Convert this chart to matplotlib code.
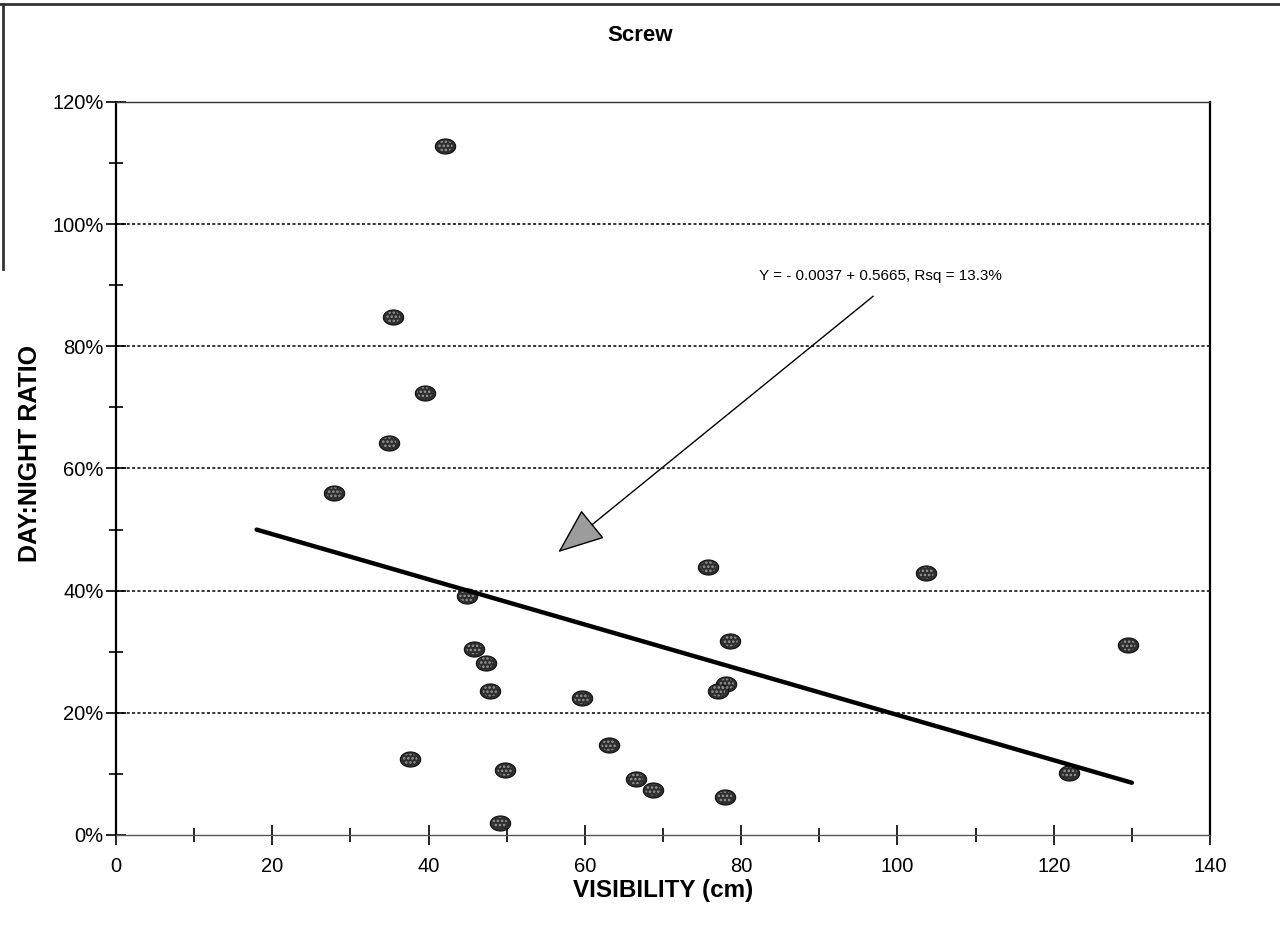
import numpy as np
import matplotlib
matplotlib.use("Agg")
import matplotlib.pyplot as plt
from matplotlib.path import Path
from matplotlib.lines import Line2D
from matplotlib.ticker import MultipleLocator, FuncFormatter

plt.rcParams['font.family'] = ['Liberation Sans', 'DejaVu Sans']
plt.rcParams['hatch.linewidth'] = 1.2

visibility = [42.1, 35.4, 39.5, 34.9, 27.9, 44.9, 45.8, 47.3, 47.9, 37.6, 49.8, 49.1,
              59.6, 63.1, 66.5, 68.7, 75.8, 78.6, 78.1, 77.0, 77.9, 103.7, 129.5, 122.0]
ratio = [1.128, 0.848, 0.724, 0.642, 0.560, 0.391, 0.305, 0.282, 0.236, 0.124, 0.106, 0.020,
         0.224, 0.147, 0.092, 0.074, 0.439, 0.318, 0.247, 0.236, 0.062, 0.429, 0.311, 0.102]

intercept = 0.5665
slope = -0.0037
fit_x = [18, 130]
eq_text = "Y = - 0.0037 + 0.5665, Rsq = 13.3%"

fig = plt.figure(figsize=(12.8, 9.26), dpi=100)
ax = fig.add_axes([0.0906, 0.0983, 0.8547, 0.7916])

# ellipse marker
t = np.linspace(0, 2 * np.pi, 60)
verts = np.column_stack([1.35 * np.cos(t), np.sin(t)])
ell = Path(verts, closed=True)
ax.scatter(visibility, ratio, marker=ell, s=215, facecolor='#2e2e2e',
           edgecolor='#111111', linewidths=0.8, zorder=4)
ax.scatter(visibility, ratio, marker=ell, s=120, facecolor='none',
           edgecolor='#9a9a9a', hatch='....', linewidths=0.0, zorder=4.5)

fx = np.array(fit_x, dtype=float)
ax.plot(fx, intercept + slope * fx, color='black', lw=3.2, solid_capstyle='round', zorder=5)

ax.annotate("", xy=(56.6, 0.463), xytext=(96.9, 0.882),
            arrowprops=dict(arrowstyle='-|>,head_length=3,head_width=1.2',
                            lw=1.0, fc='#9c9c9c', ec='black', shrinkA=0, shrinkB=0),
            zorder=6)
ax.text(97.8, 0.915, eq_text, ha='center', va='center', fontsize=11)

ax.set_xlim(0, 140)
ax.set_ylim(0, 1.2)
ax.xaxis.set_major_locator(MultipleLocator(20))
ax.xaxis.set_minor_locator(MultipleLocator(10))
ax.yaxis.set_major_locator(MultipleLocator(0.2))
ax.yaxis.set_minor_locator(MultipleLocator(0.1))
ax.yaxis.set_major_formatter(FuncFormatter(lambda v, p: f"{v*100:.0f}%"))
ax.tick_params(axis='both', which='major', direction='inout', length=14, width=1.2,
               labelsize=14.5, pad=2)
ax.tick_params(axis='both', which='minor', direction='inout', length=10, width=1.2)
ax.tick_params(axis='x', pad=9)

for yv in [0.2, 0.4, 0.6, 0.8, 1.0]:
    ax.axhline(yv, color='black', lw=1.1, ls=(0, (2, 1.5)), zorder=1)

for s in ['left', 'right']:
    ax.spines[s].set_linewidth(1.6)
ax.spines['top'].set_linewidth(1.0)
ax.spines['bottom'].set_linewidth(1.0)
ax.spines['top'].set_color('#333333')
ax.spines['bottom'].set_color('#555555')

ax.set_xlabel("VISIBILITY (cm)", fontsize=17.5, fontweight='bold', labelpad=2)
ax.set_ylabel("DAY:NIGHT RATIO", fontsize=18, fontweight='bold')
ax.yaxis.set_label_coords(-0.068, 0.52)
fig.text(0.5, 0.962, "Screw", ha='center', va='center', fontsize=16, fontweight='bold')

# figure border fragments
fig.add_artist(Line2D([0, 1], [0.9955, 0.9955], transform=fig.transFigure, color='#333333', lw=2))
fig.add_artist(Line2D([0.002, 0.002], [0.71, 0.996], transform=fig.transFigure, color='#333333', lw=2))

fig.savefig("out.png", dpi=100)
